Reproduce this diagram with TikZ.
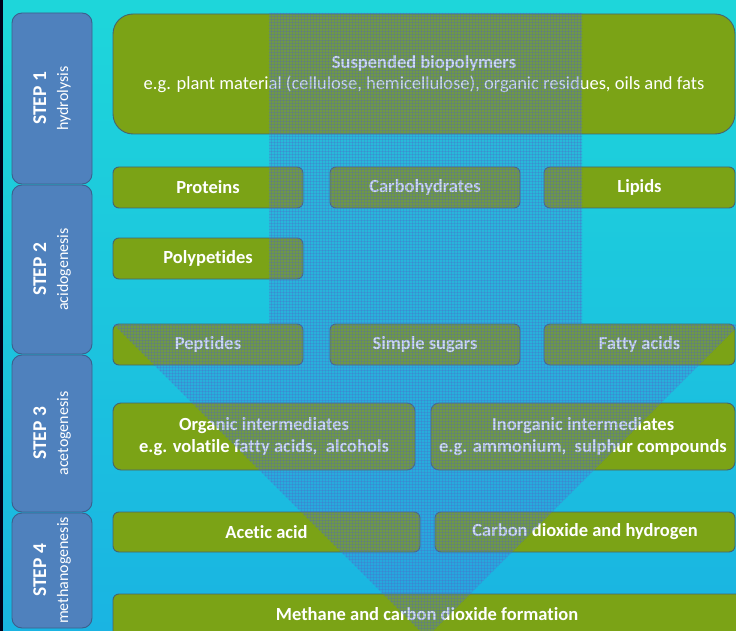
\documentclass[tikz,border=0pt]{standalone}
\usepackage{fontspec}
\setmainfont{Carlito}[Ligatures=NoCommon]
\definecolor{bgtop}{RGB}{30,214,218}
\definecolor{bgbot}{RGB}{26,180,226}
\definecolor{gfill}{RGB}{123,163,22}
\definecolor{gline}{RGB}{70,100,110}
\definecolor{sfill}{RGB}{79,129,189}
\definecolor{sline}{RGB}{60,95,140}
\definecolor{arrowc}{RGB}{75,125,210}
\definecolor{gridc}{RGB}{85,95,200}
\tikzset{
  gbox/.style={draw=gline, line width=0.9pt, fill=gfill, rounded corners=6pt, inner sep=0pt,
    text=white, align=center, font=\fontsize{18.5}{21.5}\selectfont\bfseries},
  sbox/.style={draw=sline, line width=0.9pt, fill=sfill, rounded corners=10pt, inner sep=0pt,
    minimum width=80pt},
  slabel/.style={rotate=90, text=white, align=center, inner sep=0pt, font=\fontsize{16}{22}\selectfont},
}
\newcommand{\steplab}[2]{{\fontsize{19.5}{22}\selectfont\bfseries #1}\\{\fontsize{16}{22}\selectfont #2}}
\begin{document}
\begin{tikzpicture}[x=1pt,y=-1pt]
\useasboundingbox (0,0) rectangle (736,631);
\shade[top color=bgtop, bottom color=bgbot] (0,0) rectangle (736,631);
\fill[black!90!blue] (0,0) rectangle (3,631);
% step boxes
\node[sbox, minimum height=171pt] (s1) at (52,98.5) {};
\node[sbox, minimum height=169pt] (s2) at (52,269.5) {};
\node[sbox, minimum height=157pt] (s3) at (52,433.5) {};
\node[sbox, minimum height=115pt] (s4) at (52,570.5) {};
\node[slabel] (l1) at (s1.center) {\steplab{STEP 1}{hydrolysis}};
\node[slabel] (l2) at (s2.center) {\steplab{STEP 2}{acidogenesis}};
\node[slabel] (l3) at (s3.center) {\steplab{STEP 3}{acetogenesis}};
\node[slabel] (l4) at (s4.center) {\steplab{STEP 4}{methanogenesis}};
% green boxes
\node[gbox, rounded corners=20pt, minimum width=622pt, minimum height=120pt] (sus) at (424,74)
  {Suspended biopolymers\\{\mdseries e.g. plant material (cellulose, hemicellulose), organic residues, oils and fats}};
\node[gbox, minimum width=190pt, minimum height=41pt] (prot) at (208,187.5) {Proteins};
\node[gbox, minimum width=190pt, minimum height=41pt] (carb) at (425,187.5) {Carbohydrates};
\node[gbox, minimum width=191pt, minimum height=41pt] (lip) at (639.5,187.5) {Lipids};
\node[gbox, minimum width=190pt, minimum height=41pt] (poly) at (208,258.5) {Polypetides};
\node[gbox, minimum width=190pt, minimum height=41pt] (pept) at (208,344.5) {Peptides};
\node[gbox, minimum width=190pt, minimum height=41pt] (sug) at (425,344.5) {Simple sugars};
\node[gbox, minimum width=191pt, minimum height=41pt] (fat) at (639.5,344.5) {Fatty acids};
\node[gbox, rounded corners=8pt, minimum width=302pt, minimum height=67pt] (org) at (264,436.5)
  {Organic intermediates\\e.g. volatile fatty acids,\ \ alcohols};
\node[gbox, rounded corners=8pt, minimum width=304pt, minimum height=67pt] (inorg) at (583,436.5)
  {Inorganic intermediates\\e.g. ammonium,\ \ sulphur compounds};
\node[gbox, minimum width=307pt, minimum height=40pt] (acet) at (266.5,532) {Acetic acid};
\node[gbox, minimum width=300pt, minimum height=40pt] (co2) at (585,532) {Carbon dioxide and hydrogen};
\node[gbox, minimum width=632pt, minimum height=44pt] (meth) at (429,616) {};
\node[text=white, font=\fontsize{18.5}{21.5}\selectfont\bfseries, inner sep=0pt] (methl) at (427,614) {Methane and carbon dioxide formation};
% big translucent arrow
\path[fill=arrowc, fill opacity=0.26] (269,13) -- (582,13) -- (582,324) -- (740,324) -- (426.5,637.5) -- (113,324) -- (269,324) -- cycle;
\begin{scope}
\clip (269,13) -- (582,13) -- (582,324) -- (740,324) -- (426.5,637.5) -- (113,324) -- (269,324) -- cycle;
\foreach \i in {112,115,...,742} \draw[gridc, line width=0.9pt, opacity=0.26] (\i,10) -- (\i,640);
\foreach \j in {13,16,...,640} \draw[gridc, line width=0.9pt, opacity=0.26] (110,\j) -- (742,\j);
\end{scope}
\end{tikzpicture}
\end{document}
